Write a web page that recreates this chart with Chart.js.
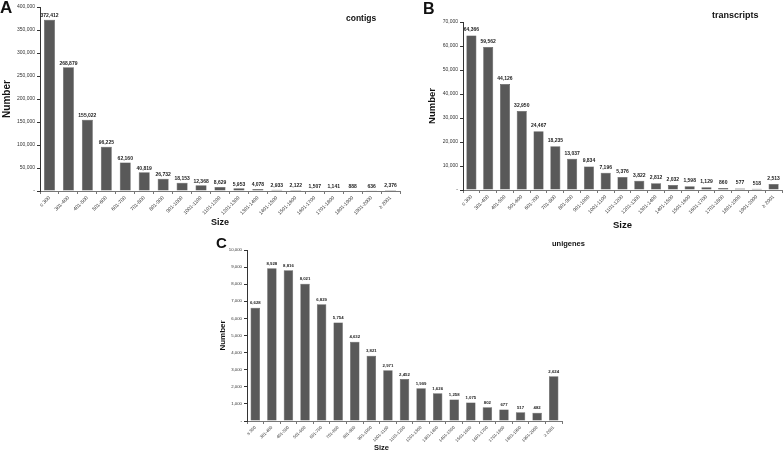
<!DOCTYPE html>
<html>
<head>
<meta charset="utf-8">
<script src="https://cdn.jsdelivr.net/npm/chart.js"></script>
<style>
  html, body { margin: 0; padding: 0; background: #fff; }
  body { width: 784px; height: 453px; position: relative; overflow: hidden; font-family: "Liberation Sans", Arial, sans-serif; }
  canvas { position: absolute; }
  .lbl { position: absolute; font-weight: bold; color: #111; white-space: nowrap; line-height: 1; }
</style>
</head>
<body>
<canvas id="chartA" width="402" height="230" style="left:0;top:0"></canvas>
<canvas id="chartB" width="364" height="233" style="left:420px;top:0"></canvas>
<canvas id="chartC" width="369" height="218" style="left:195px;top:235px"></canvas>

<div class="lbl" style="left:0;top:-1px;font-size:17px">A</div>
<div class="lbl" style="left:423px;top:1px;font-size:16px">B</div>
<div class="lbl" style="left:216px;top:235px;font-size:15px">C</div>
<div class="lbl" style="left:346px;top:14px;font-size:8.5px">contigs</div>
<div class="lbl" style="left:712px;top:11px;font-size:9px">transcripts</div>
<div class="lbl" style="left:552px;top:240px;font-size:7.5px">unigenes</div>
<div class="lbl" style="left:374px;top:444px;font-size:7.5px">Size</div>

<script>
// length bins (bp)
const sizeLabels = ['≤ 300', '301-400', '401-500', '501-600', '601-700', '701-800', '801-900',
  '901-1000', '1001-1100', '1101-1200', '1201-1300', '1301-1400', '1401-1500', '1501-1600',
  '1601-1700', '1701-1800', '1801-1900', '1901-2000', '≥ 2001'];

const contigs = [372412, 268879, 155022, 96225, 62160, 40819, 26732, 18153, 12368, 8629,
  5953, 4078, 2933, 2122, 1507, 1141, 888, 636, 2376];
const transcripts = [64366, 59562, 44126, 32950, 24467, 18235, 13037, 9834, 7196, 5376,
  3822, 2812, 2032, 1598, 1129, 860, 577, 518, 2513];
const unigenes = [6628, 8928, 8816, 8021, 6829, 5754, 4632, 3821, 2971, 2452,
  1909, 1626, 1258, 1075, 802, 677, 517, 482, 2624];

// y axis ranges
const contigsAxis = [0, 400000, 50000];
const transcriptsAxis = [0, 70000, 10000];
const unigenesAxis = [0, 10000, 1000];

const FONT = '"Liberation Sans", Arial, sans-serif';
const fmt = v => v === 0 ? '-' : v.toLocaleString('en-US');

// value above each bar
const valueLabels = {
  id: 'valueLabels',
  afterDatasetsDraw(chart, args, o) {
    const ctx = chart.ctx;
    const meta = chart.getDatasetMeta(0);
    const data = chart.data.datasets[0].data;
    ctx.save();
    ctx.font = 'bold ' + o.size + 'px ' + FONT;
    ctx.fillStyle = '#222';
    ctx.textAlign = 'center';
    ctx.textBaseline = 'bottom';
    meta.data.forEach((bar, i) => ctx.fillText(fmt(data[i]), bar.x, bar.y - o.gap));
    ctx.restore();
  }
};

function makeChart(id, values, axis, s) {
  new Chart(document.getElementById(id), {
    type: 'bar',
    data: {
      labels: sizeLabels,
      datasets: [{
        data: values,
        backgroundColor: '#595959',
        borderColor: '#444',
        borderWidth: 0.5,
        categoryPercentage: 1,
        barPercentage: s.bar
      }]
    },
    options: {
      responsive: false,
      animation: false,
      layout: { padding: { top: s.top, right: 2, left: 0, bottom: 0 } },
      plugins: {
        legend: { display: false },
        tooltip: { enabled: false },
        valueLabels: { size: s.val, gap: s.gap }
      },
      scales: {
        x: {
          afterFit: sc => { sc.height = s.xh; },
          border: { display: true, color: '#777', width: 1 },
          grid: { display: true, drawOnChartArea: false, tickLength: 3, color: '#777' },
          ticks: {
            minRotation: 45, maxRotation: 45, autoSkip: false, padding: 1,
            color: '#333', font: { family: FONT, size: s.tick }
          },
          title: {
            display: s.xt > 0, text: 'Size', color: '#111',
            font: { family: FONT, size: s.xt || 8, weight: 'bold' },
            padding: { top: 0, bottom: s.xtp }
          }
        },
        y: {
          min: axis[0], max: axis[1],
          afterFit: sc => { sc.width = s.yw; },
          border: { display: true, color: '#333', width: 1 },
          grid: { display: true, drawOnChartArea: false, tickLength: 3, color: '#333' },
          ticks: {
            stepSize: axis[2], padding: 2, color: '#333',
            font: { family: FONT, size: s.tick },
            callback: v => fmt(v)
          },
          title: {
            display: true, text: 'Number', color: '#111',
            font: { family: FONT, size: s.yt, weight: 'bold' },
            padding: { top: s.ytp, bottom: 0 }
          }
        }
      }
    },
    plugins: [valueLabels]
  });
}

makeChart('chartA', contigs, contigsAxis,
  { top: 7, xh: 39, yw: 40, bar: 0.58, tick: 5, val: 5, gap: 1.5, xt: 9, xtp: 2.5, yt: 10, ytp: 1 });
makeChart('chartB', transcripts, transcriptsAxis,
  { top: 22, xh: 43, yw: 43, bar: 0.6, tick: 5, val: 5, gap: 3, xt: 9.5, xtp: 1.5, yt: 9.5, ytp: 7 });
// C's "Size" sits left of the axis centre in the figure, so it is placed as a div above
makeChart('chartC', unigenes, unigenesAxis,
  { top: 15, xh: 32, yw: 52, bar: 0.57, tick: 4.3, val: 4.3, gap: 2.5, xt: 0, xtp: 0, yt: 8, ytp: 23 });
</script>
</body>
</html>
